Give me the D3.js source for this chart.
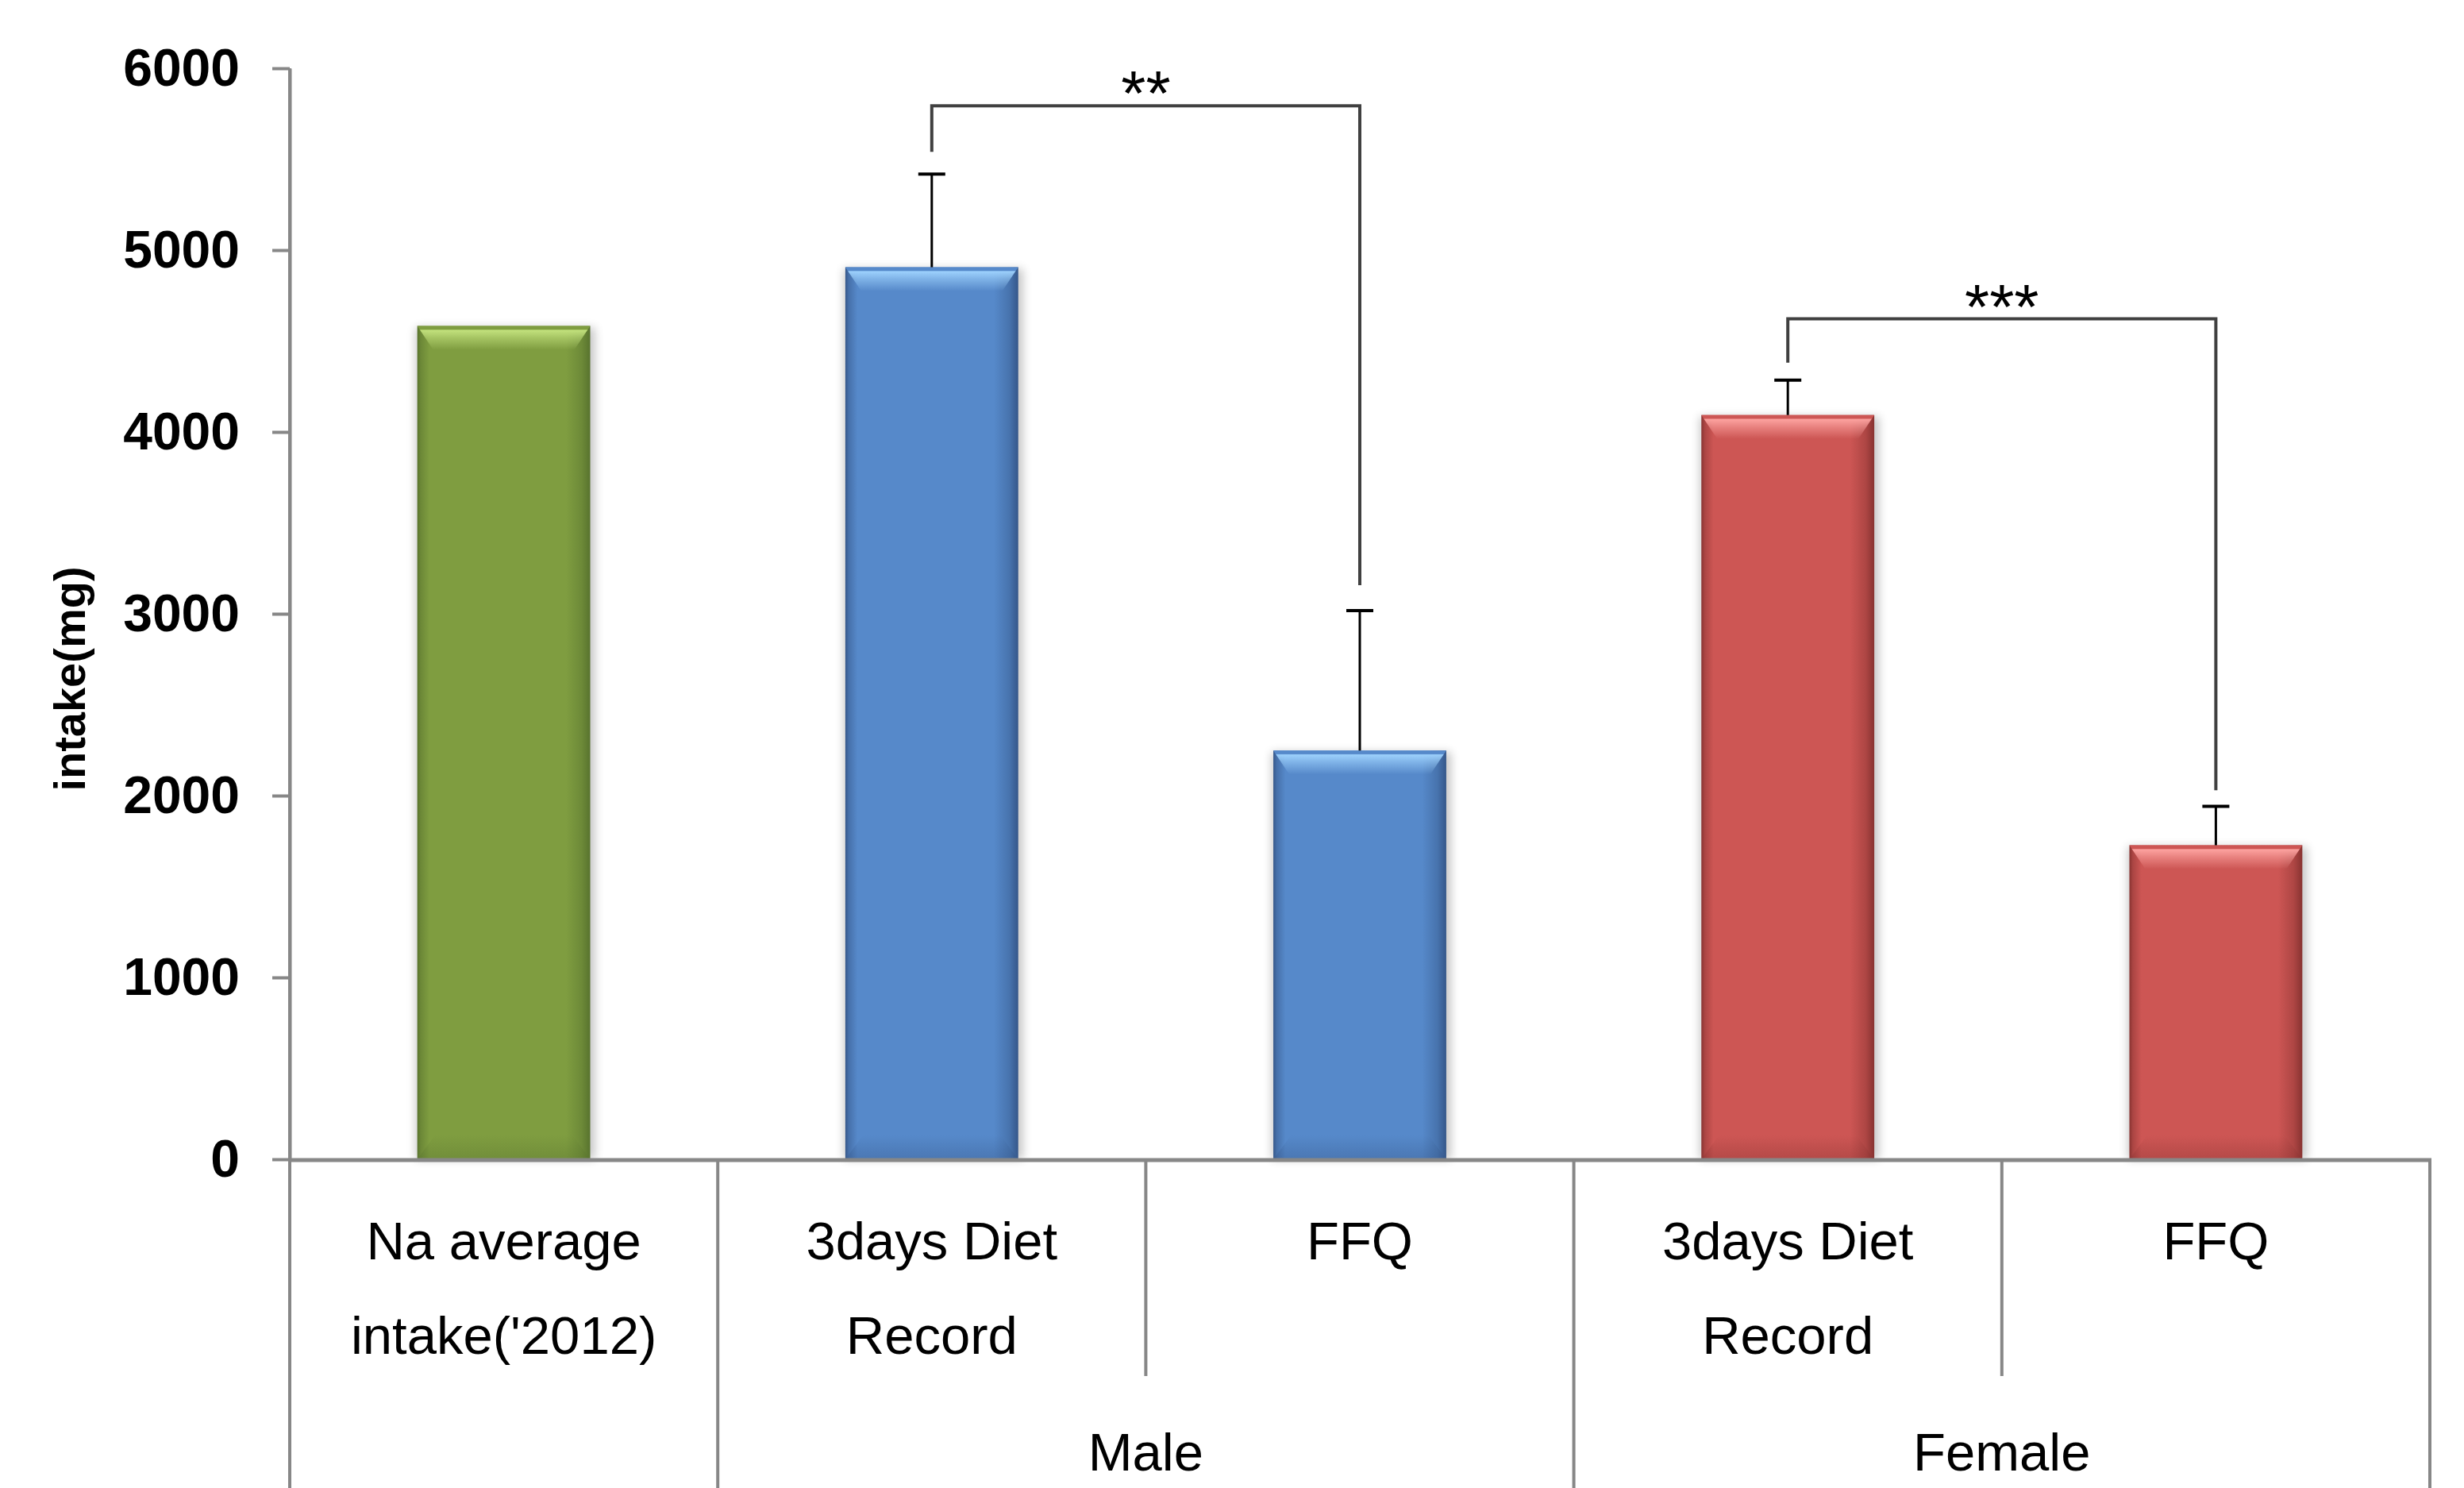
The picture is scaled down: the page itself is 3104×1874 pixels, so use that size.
<!DOCTYPE html>
<html>
<head>
<meta charset="utf-8">
<script src="https://cdn.jsdelivr.net/npm/d3@7"></script>
<style>
    html, body { margin: 0; padding: 0; background: #fff; overflow: hidden; }
    svg { display: block; font-family: "Liberation Sans", Arial, sans-serif; }
</style>
</head>
<body>
<svg class="chart"></svg>
<script>
// values (mg)
var categoryLines = [["Na average", "intake('2012)"], ["3days Diet", "Record"], ["FFQ"], ["3days Diet", "Record"], ["FFQ"]];
var groupOf = ["", "Male", "Male", "Female", "Female"];
var groupNames = ["Male", "Female"];
var intake = [4583, 4906, 2248, 4093, 1727];
var intakeSD = [0, 512, 769, 192, 214];
var yTicks = [0, 1000, 2000, 3000, 4000, 5000, 6000];

// significance brackets
var sigFrom = [1, 3];
var sigTo = [2, 4];
var sigLabels = ["**", "***"];
var sigLevel = [5794, 4622];
var sigLeftEnd = [5540, 4381];
var sigRightEnd = [3157, 2029];

var palette = {
    "":     { main: "#7f9d40", light: "#c6e580", dark: "#58732e" },
    Male:   { main: "#5689ca", light: "#a0d4ff", dark: "#35578a" },
    Female: { main: "#cd5654", light: "#ffa6a3", dark: "#883331" }
};

var width = 3104,
    height = 1874,
    plotLeft = 365,
    plotRight = 3061,
    plotTop = 86,
    base = 1460,
    axisColor = "#878787",
    x,
    y,
    barW,
    chart,
    defs,
    bar;

x = d3.scaleBand()
    .domain(d3.range(intake.length))
    .range([plotLeft, plotRight])
    .padding(0);

y = d3.scaleLinear()
    .domain([0, 6000])
    .range([base, plotTop]);

barW = x.bandwidth() * 0.404;

function cx(i) { return x(i) + x.bandwidth() / 2; }

chart = d3.select(".chart")
    .attr("width", width)
    .attr("height", height);

defs = chart.append("defs");

defs.append("filter")
    .attr("id", "shadow")
    .attr("x", "-20%").attr("y", "-5%")
    .attr("width", "140%").attr("height", "110%")
    .append("feGaussianBlur")
    .attr("stdDeviation", 6);

Object.keys(palette).forEach(function(k, n) {
    var c = palette[k],
        side,
        topG,
        botG;

    side = defs.append("linearGradient")
        .attr("id", "side" + n)
        .attr("x1", 0).attr("x2", 1).attr("y1", 0).attr("y2", 0);
    [[0, c.dark], [0.02, d3.interpolateRgb(c.dark, c.main)(0.5)], [0.07, c.main],
     [0.86, c.main], [0.95, d3.interpolateRgb(c.main, c.dark)(0.45)], [1, c.dark]]
        .forEach(function(s) {
            side.append("stop").attr("offset", s[0]).attr("stop-color", s[1]);
        });

    topG = defs.append("linearGradient")
        .attr("id", "top" + n)
        .attr("x1", 0).attr("x2", 0).attr("y1", 0).attr("y2", 1);
    topG.append("stop").attr("offset", 0).attr("stop-color", c.main).attr("stop-opacity", 1);
    topG.append("stop").attr("offset", 0.14).attr("stop-color", c.main).attr("stop-opacity", 1);
    topG.append("stop").attr("offset", 0.18).attr("stop-color", c.light).attr("stop-opacity", 0.95);
    topG.append("stop").attr("offset", 0.5).attr("stop-color", c.light).attr("stop-opacity", 0.55);
    topG.append("stop").attr("offset", 1).attr("stop-color", c.light).attr("stop-opacity", 0);

    botG = defs.append("linearGradient")
        .attr("id", "bot" + n)
        .attr("x1", 0).attr("x2", 0).attr("y1", 0).attr("y2", 1);
    botG.append("stop").attr("offset", 0).attr("stop-color", c.dark).attr("stop-opacity", 0);
    botG.append("stop").attr("offset", 0.6).attr("stop-color", c.dark).attr("stop-opacity", 0.22);
    botG.append("stop").attr("offset", 1).attr("stop-color", c.dark).attr("stop-opacity", 0.35);

    c.id = n;
});

// bars
bar = chart.selectAll("g.bar")
    .data(d3.range(intake.length))
    .enter().append("g")
    .attr("class", "bar")
    .attr("transform", function(i) {
        return "translate(" + (cx(i) - barW / 2) + "," + y(intake[i]) + ")";
    });

bar.append("rect")
    .attr("x", -2)
    .attr("y", 2)
    .attr("width", barW + 8)
    .attr("height", function(i) { return base - y(intake[i]) - 2; })
    .attr("fill", "#000")
    .attr("opacity", 0.22)
    .attr("filter", "url(#shadow)");

bar.append("rect")
    .attr("width", barW)
    .attr("height", function(i) { return base - y(intake[i]); })
    .attr("fill", function(i) { return "url(#side" + palette[groupOf[i]].id + ")"; });

bar.append("path")
    .attr("d", "M0,0H" + barW + "L" + (barW - 20) + ",30H20Z")
    .attr("fill", function(i) { return "url(#top" + palette[groupOf[i]].id + ")"; });

bar.append("path")
    .attr("d", function(i) {
        var h = base - y(intake[i]);
        return "M22," + (h - 30) + "H" + (barW - 22) + "L" + barW + "," + h + "H0Z";
    })
    .attr("fill", function(i) { return "url(#bot" + palette[groupOf[i]].id + ")"; });

// error bars (upper half only)
var err = chart.selectAll("g.err")
    .data(d3.range(intake.length).filter(function(i) { return intakeSD[i] > 0; }))
    .enter().append("g")
    .attr("class", "err")
    .attr("stroke", "#000");

err.append("line")
    .attr("x1", cx).attr("x2", cx)
    .attr("y1", function(i) { return y(intake[i]); })
    .attr("y2", function(i) { return y(intake[i] + intakeSD[i]); })
    .attr("stroke-width", 3);

err.append("line")
    .attr("x1", function(i) { return cx(i) - 17; })
    .attr("x2", function(i) { return cx(i) + 17; })
    .attr("y1", function(i) { return y(intake[i] + intakeSD[i]); })
    .attr("y2", function(i) { return y(intake[i] + intakeSD[i]); })
    .attr("stroke-width", 4);

// y axis
var yAxis = chart.append("g")
    .attr("transform", "translate(" + plotLeft + ",0)")
    .call(d3.axisLeft(y)
        .tickValues(yTicks)
        .tickFormat(d3.format("d"))
        .tickSize(22)
        .tickSizeOuter(0)
        .tickPadding(41));

yAxis.select(".domain").attr("stroke", axisColor).attr("stroke-width", 4);
yAxis.selectAll(".tick line").attr("stroke", axisColor).attr("stroke-width", 4);
yAxis.selectAll(".tick text")
    .attr("fill", "#000")
    .attr("font-family", "'Liberation Sans', Arial, sans-serif")
    .attr("font-size", 66)
    .attr("font-weight", "bold");

chart.append("text")
    .attr("transform", "translate(87,855) rotate(-90)")
    .attr("text-anchor", "middle")
    .attr("dy", ".35em")
    .attr("font-size", 56)
    .attr("font-weight", "bold")
    .text("intake(mg)");

// category axis, two levels
chart.append("line")
    .attr("x1", plotLeft - 2).attr("x2", plotRight + 2)
    .attr("y1", base + 1).attr("y2", base + 1)
    .attr("stroke", axisColor)
    .attr("stroke-width", 5);

var bounds = d3.range(intake.length + 1);

chart.selectAll("line.div")
    .data(bounds)
    .enter().append("line")
    .attr("class", "div")
    .attr("x1", function(b) { return b < intake.length ? x(b) : plotRight; })
    .attr("x2", function(b) { return b < intake.length ? x(b) : plotRight; })
    .attr("y1", function(b) { return b === 0 ? plotTop : base; })
    .attr("y2", function(b) {
        var same = b > 0 && b < intake.length && groupOf[b] !== "" && groupOf[b] === groupOf[b - 1];
        return same ? 1733 : height;
    })
    .attr("stroke", axisColor)
    .attr("stroke-width", 4);

var catLabel = chart.selectAll("text.cat")
    .data(d3.range(intake.length))
    .enter().append("text")
    .attr("class", "cat")
    .attr("text-anchor", "middle")
    .attr("font-size", 67)
    .attr("fill", "#000");

catLabel.selectAll("tspan")
    .data(function(i) { return categoryLines[i].map(function(t) { return { i: i, t: t }; }); })
    .enter().append("tspan")
    .attr("x", function(d) { return cx(d.i); })
    .attr("y", function(d, k) { return 1586 + k * 119; })
    .text(function(d) { return d.t; });

chart.selectAll("text.grp")
    .data(groupNames)
    .enter().append("text")
    .attr("class", "grp")
    .attr("text-anchor", "middle")
    .attr("font-size", 67)
    .attr("x", function(g) {
        var idx = d3.range(intake.length).filter(function(i) { return groupOf[i] === g; });
        return (x(idx[0]) + x(idx[idx.length - 1]) + x.bandwidth()) / 2;
    })
    .attr("y", 1852)
    .text(function(g) { return g; });

// significance brackets
var sig = chart.selectAll("g.sig")
    .data(d3.range(sigLabels.length))
    .enter().append("g")
    .attr("class", "sig");

sig.append("path")
    .attr("d", function(s) {
        return "M" + cx(sigFrom[s]) + "," + y(sigLeftEnd[s]) +
            "V" + y(sigLevel[s]) +
            "H" + cx(sigTo[s]) +
            "V" + y(sigRightEnd[s]);
    })
    .attr("fill", "none")
    .attr("stroke", "#404040")
    .attr("stroke-width", 4);

sig.append("text")
    .attr("x", function(s) { return (cx(sigFrom[s]) + cx(sigTo[s])) / 2; })
    .attr("y", function(s) { return y(sigLevel[s]) + 12; })
    .attr("text-anchor", "middle")
    .attr("font-size", 80)
    .text(function(s) { return sigLabels[s]; });
</script>
</body>
</html>
